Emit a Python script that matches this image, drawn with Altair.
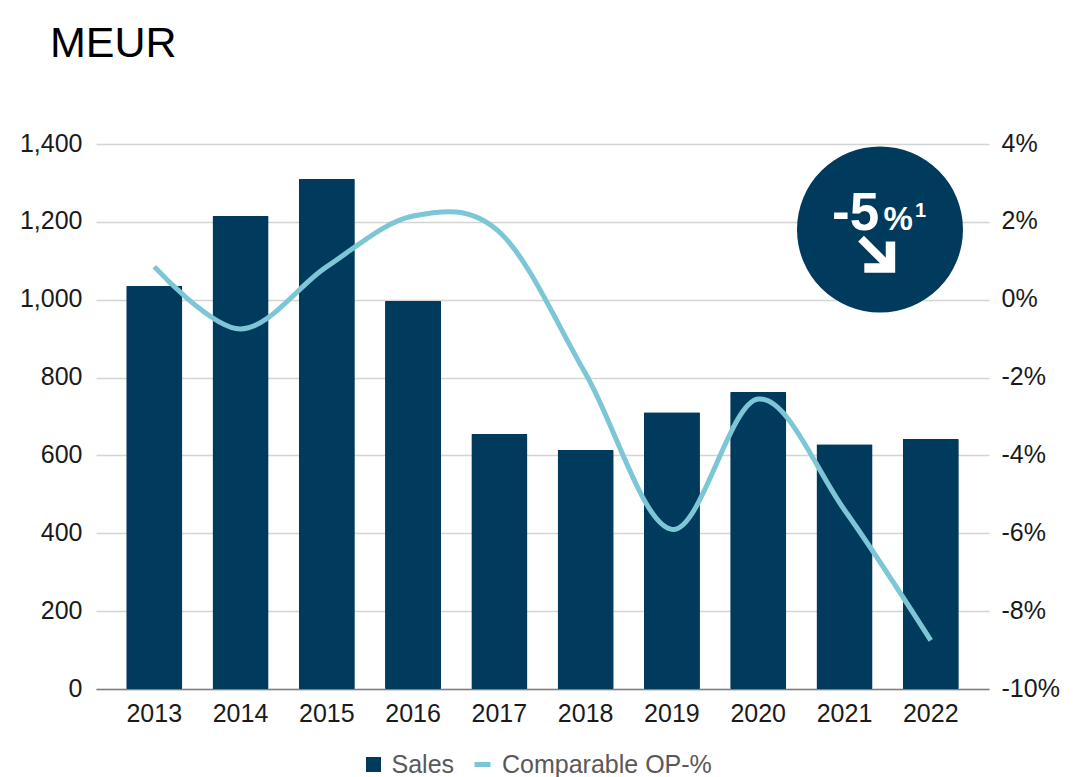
import altair as alt
import pandas as pd

years = ["2013", "2014", "2015", "2016", "2017", "2018", "2019", "2020", "2021", "2022"]
sales = [1035, 1215, 1310, 997, 655, 614, 711, 763, 629, 642]
op_pct = [0.85, -0.75, 0.85, 2.15, 1.74, -1.9, -5.9, -2.55, -5.4, -8.75]
sales_ticks = [0, 200, 400, 600, 800, 1000, 1200, 1400]
pct_ticks = [-10, -8, -6, -4, -2, 0, 2, 4]

NAVY = "#003A5D"
TEAL = "#7CC6D6"
FONT = "Liberation Sans"
TICK = 25

df = pd.DataFrame({"year": years, "sales": sales, "op": op_pct,
                   "s": ["Sales"] * 10, "c": ["Comparable OP-%"] * 10})

x = alt.X("year:O", title=None,
          scale=alt.Scale(paddingInner=0.35, paddingOuter=0.35),
          axis=alt.Axis(labelAngle=0, labelFont=FONT, labelFontSize=TICK, labelColor="#1a1a1a",
                        ticks=False, domainColor="#7f7f7f", domainWidth=1.5, labelPadding=12))

bars = alt.Chart(df).mark_bar(cornerRadius=1).encode(
    x=x,
    y=alt.Y("sales:Q", title=None, scale=alt.Scale(domain=[0, 1400], nice=False),
            axis=alt.Axis(values=sales_ticks, format=",d", labelFont=FONT, labelFontSize=TICK,
                          labelColor="#1a1a1a", ticks=False, domain=False, grid=True,
                          gridColor="#d4d4d4", gridWidth=1.3, labelPadding=14, labelOffset=-1)),
    fill=alt.Fill("s:N", scale=alt.Scale(range=[NAVY]),
                  legend=alt.Legend(title=None, orient="none", legendX=265, legendY=608,
                                    symbolType="square", symbolSize=225, symbolStrokeWidth=0,
                                    labelFont=FONT, labelFontSize=TICK, labelColor="#595959",
                                    labelOffset=5.5, labelLimit=400, padding=0)),
)

line = alt.Chart(df).mark_line(interpolate="cardinal", tension=0, strokeWidth=5).encode(
    x=x,
    y=alt.Y("op:Q", title=None, scale=alt.Scale(domain=[-10, 4], nice=False),
            axis=alt.Axis(orient="right", values=pct_ticks, labelExpr="datum.value + '%'",
                          labelFont=FONT, labelFontSize=TICK, labelColor="#1a1a1a",
                          ticks=False, domain=False, grid=False, labelPadding=12, labelOffset=-1)),
    stroke=alt.Stroke("c:N", scale=alt.Scale(range=[TEAL]),
                      legend=alt.Legend(title=None, orient="none", legendX=374, legendY=608,
                                        symbolType="stroke", symbolSize=256, symbolStrokeWidth=5,
                                        labelFont=FONT, labelFontSize=TICK, labelColor="#595959",
                                        labelOffset=7, labelLimit=400, padding=0)),
)

one = pd.DataFrame({"a": [0]})

circle = alt.Chart(one).mark_point(filled=True, shape="circle", size=27556, color=NAVY, opacity=1).encode(
    x=alt.value(784), y=alt.value(85.5))

ARROW = ("M-0.69,-1 L0.49,0.18 L0.49,-0.69 L1,-0.69 L1,1 L-0.67,1 "
         "L-0.67,0.49 L0.18,0.49 L-1,-0.69 Z")
arrow = alt.Chart(one).mark_point(filled=True, shape=ARROW, size=1369, color="white", opacity=1).encode(
    x=alt.value(780.7), y=alt.value(110.3))


def label(text, px, py, size, bold=True, color="white"):
    return alt.Chart(pd.DataFrame({"t": [text]})).mark_text(
        font=FONT, fontSize=size, fontWeight="bold" if bold else "normal",
        color=color, align="left", baseline="alphabetic").encode(
        text="t:N", x=alt.value(px), y=alt.value(py))


minus_five = label("-5", 736, 85.5, 53)
pct = label("%", 787.5, 86, 33)
sup = label("1", 819, 73, 20)
title = label("MEUR", -46, -87, 43, bold=False, color="#000000")

chart = alt.layer(bars, line, circle, arrow, minus_five, pct, sup, title).resolve_scale(
    y="independent", fill="independent", stroke="independent"
).properties(
    width=893, height=545,
    padding={"left": 88, "top": 136, "right": 87, "bottom": 88},
    autosize=alt.AutoSizeParams(type="none"),
    background="white",
).configure_view(stroke=None)

chart.save("out.html", embed_options={"renderer": "svg", "actions": False})
